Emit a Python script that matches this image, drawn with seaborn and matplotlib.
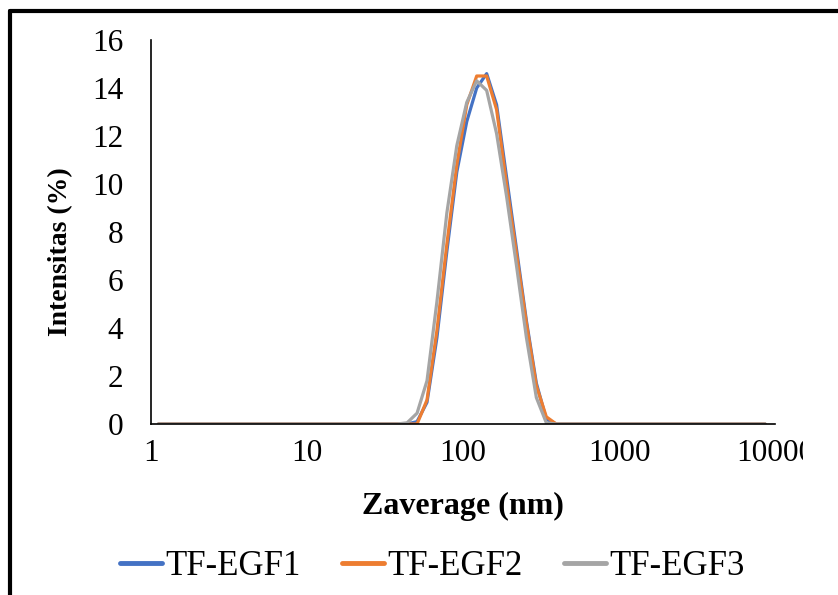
#!/usr/bin/env python
# coding: utf-8
# DLS intensity distribution, TF-EGF replicates

#%%

import pandas as pd
import numpy as np
import matplotlib
matplotlib.use("Agg")
import matplotlib.pyplot as plt
import seaborn as sns
from matplotlib.lines import Line2D
from matplotlib.transforms import Bbox, TransformedBbox

# %% data (Zetasizer size bins, nm)

sizes = [1.117, 1.294, 1.499, 1.736, 2.010, 2.328, 2.696, 3.122, 3.615, 4.187,
         4.849, 5.615, 6.503, 7.531, 8.721, 10.10, 11.70, 13.54, 15.69, 18.17,
         21.04, 24.36, 28.21, 32.67, 37.84, 43.82, 50.75, 58.77, 68.06, 78.82,
         91.28, 105.7, 122.4, 141.8, 164.2, 190.1, 220.2, 255.0, 295.3, 342.0,
         396.1, 458.7, 531.2, 615.1, 712.4, 825.0, 955.4, 1106, 1281, 1484,
         1718, 1990, 2305, 2669, 3091, 3580, 4145, 4801, 5560, 6439,
         7456, 8635]

egf1 = [0, 0, 0, 0, 0, 0, 0, 0, 0, 0,
        0, 0, 0, 0, 0, 0, 0, 0, 0, 0,
        0, 0, 0, 0, 0, 0, 0.1, 0.9, 3.6, 7.2,
        10.5, 12.6, 14.0, 14.6, 13.3, 10.3, 7.3, 4.3, 1.7, 0.2,
        0, 0, 0, 0, 0, 0, 0, 0, 0, 0,
        0, 0, 0, 0, 0, 0, 0, 0, 0, 0,
        0, 0]

egf2 = [0, 0, 0, 0, 0, 0, 0, 0, 0, 0,
        0, 0, 0, 0, 0, 0, 0, 0, 0, 0,
        0, 0, 0, 0, 0, 0, 0, 1.0, 3.9, 7.5,
        10.8, 13.3, 14.5, 14.5, 13.1, 10.0, 7.1, 4.2, 1.6, 0.3,
        0, 0, 0, 0, 0, 0, 0, 0, 0, 0,
        0, 0, 0, 0, 0, 0, 0, 0, 0, 0,
        0, 0]

egf3 = [0, 0, 0, 0, 0, 0, 0, 0, 0, 0,
        0, 0, 0, 0, 0, 0, 0, 0, 0, 0,
        0, 0, 0, 0, 0, 0.05, 0.45, 1.8, 5.1, 8.8,
        11.6, 13.4, 14.3, 13.9, 12.1, 9.5, 6.6, 3.6, 1.1, 0.05,
        0, 0, 0, 0, 0, 0, 0, 0, 0, 0,
        0, 0, 0, 0, 0, 0, 0, 0, 0, 0,
        0, 0]

series_names = ["TF-EGF1", "TF-EGF2", "TF-EGF3"]
series_colors = ["#4472C4", "#ED7D31", "#A5A5A5"]
x_ticks = [1, 10, 100, 1000, 10000]
x_ticklabels = ["1", "10", "100", "1000", "10000"]
y_ticks = [0, 2, 4, 6, 8, 10, 12, 14, 16]

plotDf = pd.DataFrame({
    "size": sizes * 3,
    "intensity": egf1 + egf2 + egf3,
    "sample": [series_names[0]] * len(sizes) + [series_names[1]] * len(sizes)
              + [series_names[2]] * len(sizes),
})

#%% plot

sns.set_style("white")
plt.rcParams['font.family'] = ["Liberation Serif", "DejaVu Serif"]
plt.rcParams['text.color'] = "black"
plt.rcParams['axes.labelcolor'] = "black"

fig = plt.figure(figsize=(8.38, 5.95), dpi=100)
ax = fig.add_axes([151/838, 1 - 424/595, (775 - 151)/838, (424 - 40)/595])
ax.set_xscale("log")

sns.lineplot(data=plotDf, x="size", y="intensity", hue="sample",
             hue_order=series_names, palette=series_colors,
             linewidth=2.3, ax=ax)

ax.set_xlim(1, 10000)
ax.set_ylim(0, 16)
ax.set_xticks(x_ticks, labels=x_ticklabels)
ax.xaxis.set_minor_locator(matplotlib.ticker.NullLocator())
ax.set_yticks(y_ticks)

for side in ["top", "right"]:
    ax.spines[side].set_visible(False)
for side in ["left", "bottom"]:
    ax.spines[side].set_color("black")
    ax.spines[side].set_linewidth(1.2)

ax.tick_params(axis="both", which="major", direction="out", length=6,
               width=1.1, color="black", labelsize=22.5, labelcolor="black")
ax.tick_params(axis="y", pad=14)
ax.tick_params(axis="x", pad=5)

ax.set_xlabel("Zaverage (nm)", fontsize=23, fontweight="bold", labelpad=17)
ax.set_ylabel("Intensitas (%)", fontsize=20, fontweight="bold")
ax.yaxis.set_label_coords(-0.125, 0.45)

# last tick label is cut off in the original
lastLabel = ax.get_xticklabels()[-1]
lastLabel.set_clip_on(True)
lastLabel.set_clip_box(TransformedBbox(Bbox([[0, 0], [803/838, 1]]), fig.transFigure))

handles, labels = ax.get_legend_handles_labels()
for h in handles:
    h.set_linewidth(3.5)
ax.legend(handles, labels, loc="center", bbox_to_anchor=(0.516, 0.048),
          bbox_transform=fig.transFigure, ncol=3, frameon=False,
          fontsize=25, handlelength=1.2, handletextpad=0.1, columnspacing=1.2,
          labelcolor="black")

# chart frame (left and top edges visible in the crop)
fig.add_artist(Line2D([10/838, 10/838], [0, 1 - 11/595], color="black", lw=3))
fig.add_artist(Line2D([10/838, 1], [1 - 11/595, 1 - 11/595], color="black", lw=3))

plt.savefig("out.png", dpi=100)
